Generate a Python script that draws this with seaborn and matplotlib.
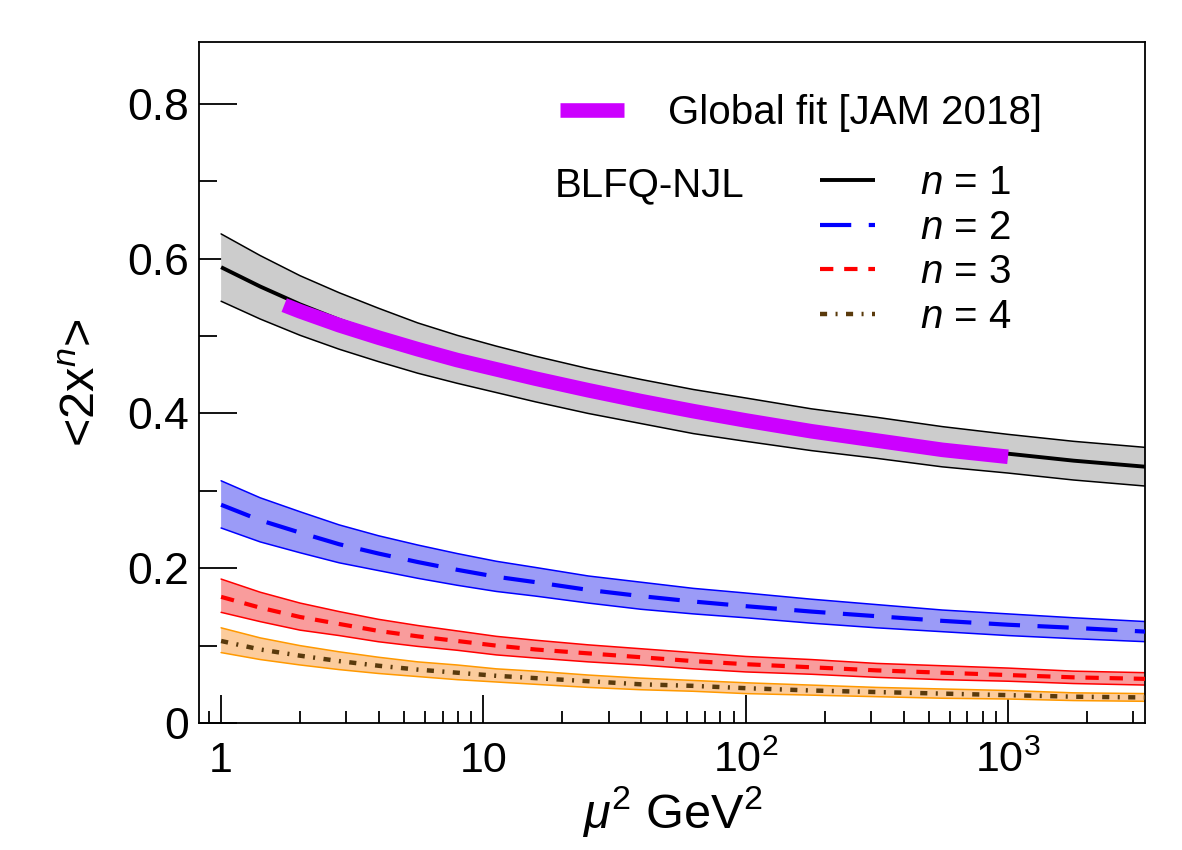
import numpy as np
import pandas as pd
import matplotlib
matplotlib.use("Agg")
import matplotlib.pyplot as plt
import seaborn as sns
from matplotlib.ticker import FixedLocator, FixedFormatter, LogLocator, NullFormatter, MultipleLocator

# ---------------- data ----------------
mu2 = [1, 1.41, 2, 2.82, 3.98, 5.62, 7.94, 11.2, 15.8, 25.1, 39.8, 63.1,
       100, 178, 316, 562, 1000, 1778, 3388]

n1_mid = [0.589, 0.564, 0.541, 0.521, 0.503, 0.486, 0.471, 0.458, 0.445, 0.430, 0.416, 0.403,
          0.392, 0.379, 0.368, 0.357, 0.348, 0.339, 0.331]
n1_up  = [0.632, 0.604, 0.578, 0.556, 0.536, 0.517, 0.501, 0.487, 0.474, 0.458, 0.444, 0.431,
          0.420, 0.406, 0.395, 0.383, 0.373, 0.364, 0.356]
n1_lo  = [0.545, 0.522, 0.501, 0.483, 0.467, 0.452, 0.439, 0.427, 0.415, 0.400, 0.387, 0.374,
          0.364, 0.352, 0.342, 0.331, 0.323, 0.314, 0.306]

n2_mid = [0.282, 0.262, 0.246, 0.231, 0.219, 0.208, 0.198, 0.189, 0.182, 0.172, 0.164, 0.157,
          0.151, 0.144, 0.138, 0.132, 0.127, 0.123, 0.118]
n2_up  = [0.313, 0.291, 0.273, 0.256, 0.242, 0.230, 0.219, 0.209, 0.201, 0.190, 0.182, 0.174,
          0.168, 0.160, 0.153, 0.146, 0.141, 0.136, 0.131]
n2_lo  = [0.252, 0.234, 0.220, 0.207, 0.197, 0.187, 0.178, 0.170, 0.164, 0.155, 0.147, 0.141,
          0.136, 0.129, 0.123, 0.118, 0.113, 0.109, 0.105]

n3_mid = [0.163, 0.149, 0.137, 0.128, 0.119, 0.112, 0.106, 0.100, 0.095, 0.090, 0.085, 0.080,
          0.076, 0.072, 0.068, 0.065, 0.062, 0.059, 0.057]
n3_up  = [0.186, 0.169, 0.155, 0.144, 0.134, 0.126, 0.119, 0.112, 0.107, 0.101, 0.096, 0.091,
          0.086, 0.082, 0.077, 0.074, 0.071, 0.067, 0.065]
n3_lo  = [0.143, 0.131, 0.120, 0.113, 0.105, 0.099, 0.094, 0.088, 0.084, 0.079, 0.075, 0.070,
          0.066, 0.063, 0.059, 0.056, 0.054, 0.051, 0.049]

n4_mid = [0.106, 0.095, 0.087, 0.080, 0.074, 0.069, 0.065, 0.061, 0.058, 0.054, 0.050, 0.048,
          0.045, 0.042, 0.040, 0.038, 0.036, 0.034, 0.033]
n4_up  = [0.123, 0.110, 0.100, 0.092, 0.085, 0.079, 0.075, 0.070, 0.067, 0.062, 0.058, 0.055,
          0.052, 0.049, 0.046, 0.044, 0.042, 0.039, 0.038]
n4_lo  = [0.091, 0.082, 0.075, 0.069, 0.064, 0.060, 0.056, 0.053, 0.050, 0.046, 0.043, 0.041,
          0.038, 0.036, 0.034, 0.032, 0.031, 0.029, 0.028]

jam_mu2 = [1.74, 2, 2.82, 3.98, 5.62, 7.94, 11.2, 15.8, 25.1, 39.8, 63.1, 100, 178, 316, 562, 1000]
jam_val = [0.540, 0.532, 0.514, 0.498, 0.483, 0.469, 0.457, 0.445, 0.430, 0.416, 0.403, 0.391,
           0.377, 0.365, 0.353, 0.344]

xticks = [1, 10, 100, 1000]
xtick_labels = ["1", "10", r"$\mathregular{10^2}$", r"$\mathregular{10^3}$"]
yticks = [0, 0.2, 0.4, 0.6, 0.8]
ytick_labels = ["0", "0.2", "0.4", "0.6", "0.8"]

labels_n = [r"$n$ = 1", r"$n$ = 2", r"$n$ = 3", r"$n$ = 4"]
jam_label = "Global fit [JAM 2018]"
model_label = "BLFQ-NJL"

# ---------------- style ----------------
sns.set_theme(style="ticks")
plt.rcParams["font.family"] = ["Liberation Sans", "DejaVu Sans"]
plt.rcParams["mathtext.fontset"] = "custom"
plt.rcParams["mathtext.rm"] = "Liberation Sans"
plt.rcParams["mathtext.it"] = "Liberation Sans:italic"
plt.rcParams["mathtext.bf"] = "Liberation Sans:bold"
for k in ["text.color", "axes.labelcolor", "xtick.color", "ytick.color", "axes.edgecolor"]:
    plt.rcParams[k] = "black"

fig = plt.figure(figsize=(11.82, 8.5), dpi=100)
ax = fig.add_axes([0.1684, 0.1494, 0.8003, 0.8012])

bands = [
    (n1_lo, n1_up, n1_mid, "#cccccc", "black", "black", None, 2.8),
    (n2_lo, n2_up, n2_mid, "#9b9bf7", "#0000ff", "#0000ff", (7.5, 4.2), 3.0),
    (n3_lo, n3_up, n3_mid, "#f99c9c", "#ff0000", "#ff0000", (3.2, 2.6), 3.0),
    (n4_lo, n4_up, n4_mid, "#fccc9c", "#ff9900", "#5a3a0c", (1.6, 1.9, 0.45, 1.9), 3.2),
]

mid_lines = []
for lo, up, mid, fc, ec, lc, dash, lw in bands:
    ax.fill_between(mu2, lo, up, facecolor=fc, edgecolor="none", zorder=1)
    sns.lineplot(x=mu2, y=up, ax=ax, color=ec, linewidth=1.1, zorder=2, sort=False)
    sns.lineplot(x=mu2, y=lo, ax=ax, color=ec, linewidth=1.1, zorder=2, sort=False)
    sns.lineplot(x=mu2, y=mid, ax=ax, color=lc, linewidth=lw, zorder=4, sort=False)
    ln = ax.lines[-1]
    if dash is not None:
        ln.set_dashes(dash)
    ln.set_solid_capstyle("butt")
    ln.set_dash_capstyle("butt")
    mid_lines.append(ln)

sns.lineplot(x=jam_mu2, y=jam_val, ax=ax, color="#cc00ff", linewidth=10.5, zorder=5, sort=False)
jam_line = ax.lines[-1]
jam_line.set_solid_capstyle("butt")

ax.set_xscale("log")
ax.set_xlim(0.824, 3330)
ax.set_ylim(0, 0.88)

ax.xaxis.set_major_locator(FixedLocator(xticks))
ax.xaxis.set_major_formatter(FixedFormatter(xtick_labels))
ax.xaxis.set_minor_locator(LogLocator(base=10, subs=np.arange(2, 10)))
ax.xaxis.set_minor_formatter(NullFormatter())
ax.yaxis.set_major_locator(FixedLocator(yticks))
ax.yaxis.set_major_formatter(FixedFormatter(ytick_labels))
ax.yaxis.set_minor_locator(MultipleLocator(0.1))

ax.tick_params(axis="both", which="both", direction="in", color="black", width=1.3,
               top=False, right=False)
ax.tick_params(axis="x", which="major", length=20, labelsize=31, pad=13)
ax.tick_params(axis="x", which="minor", length=9)
ax.tick_params(axis="y", which="major", length=27, labelsize=32, pad=7)
ax.tick_params(axis="y", which="minor", length=13)
for sp in ax.spines.values():
    sp.set_visible(True)
    sp.set_color("black")
    sp.set_linewidth(1.3)

ax.set_xlabel(r"$\mathit{\mu^2}$ GeV$^2$", fontsize=35, labelpad=2)
ax.set_ylabel(r"<2x$^{\mathit{n}}$>", fontsize=35, labelpad=16)

fs = 29
leg1 = ax.legend([jam_line], [jam_label], loc="center left", bbox_to_anchor=(0.3816, 0.8957),
                 frameon=False, fontsize=fs, handlelength=1.6, handletextpad=1.07,
                 borderpad=0, borderaxespad=0)
ax.add_artist(leg1)
ax.legend(mid_lines, labels_n, loc="center left", bbox_to_anchor=(0.6564, 0.6946),
          frameon=False, fontsize=fs, handlelength=1.36, handletextpad=1.12,
          labelspacing=0.16, borderpad=0, borderaxespad=0)
ax.text(0.3763, 0.790, model_label, transform=ax.transAxes, fontsize=fs,
        ha="left", va="center")

fig.savefig("out.png", dpi=100)
